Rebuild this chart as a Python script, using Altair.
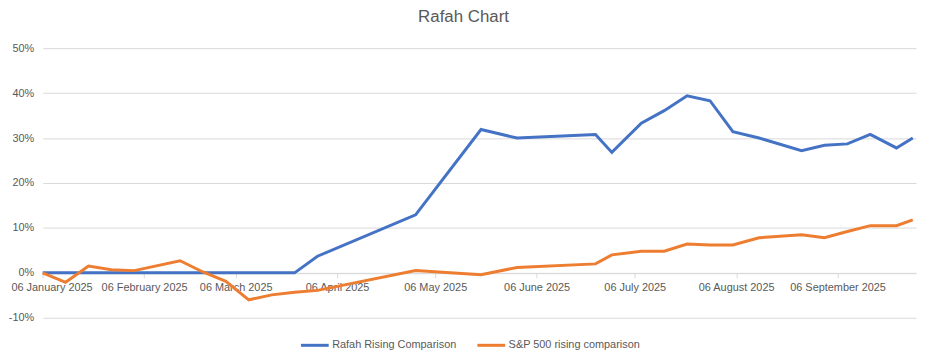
import altair as alt
import pandas as pd

dates = ["2025-01-06", "2025-01-13", "2025-01-20", "2025-01-27", "2025-02-03",
         "2025-02-17", "2025-02-24", "2025-03-03", "2025-03-10", "2025-03-17",
         "2025-03-24", "2025-03-31", "2025-04-30", "2025-05-20", "2025-05-31",
         "2025-06-24", "2025-06-29", "2025-07-08", "2025-07-15", "2025-07-22",
         "2025-07-29", "2025-08-05", "2025-08-13", "2025-08-26", "2025-09-02",
         "2025-09-09", "2025-09-16", "2025-09-24", "2025-09-29"]

rafah = [0.0, 0.0, 0.0, 0.0, 0.0,
         0.0, 0.0, 0.0, 0.0, 0.0,
         0.0, 0.037, 0.129, 0.319, 0.300,
         0.308, 0.268, 0.333, 0.361, 0.394,
         0.383, 0.314, 0.300, 0.272, 0.284,
         0.287, 0.308, 0.278, 0.300]

sp500 = [0.0, -0.021, 0.015, 0.007, 0.005,
         0.027, 0.002, -0.019, -0.060, -0.049,
         -0.043, -0.039, 0.005, -0.004, 0.012,
         0.020, 0.040, 0.048, 0.048, 0.064,
         0.062, 0.062, 0.078, 0.085, 0.078,
         0.092, 0.105, 0.105, 0.118]

series_names = ["Rafah Rising Comparison", "S&P 500 rising comparison"]
series_colors = ["#4472C4", "#ED7D31"]

y_ticks = [-0.1, 0.0, 0.1, 0.2, 0.3, 0.4, 0.5]
tick_months = [1, 2, 3, 4, 5, 6, 7, 8, 9]

rows = []
for d, v in zip(dates, rafah):
    rows.append({"date": d, "value": v, "series": series_names[0]})
for d, v in zip(dates, sp500):
    rows.append({"date": d, "value": v, "series": series_names[1]})
df = pd.DataFrame(rows)

W, H = 881, 272
zero_offset = -(H * 0.1 / 0.6)

font = "Liberation Sans"
gray = "#595959"

chart = alt.Chart(df).mark_line(strokeWidth=3).encode(
    x=alt.X(
        "date:T",
        scale=alt.Scale(
            type="utc",
            domain=[alt.DateTime(year=2025, month=1, date=6, utc=True),
                    alt.DateTime(year=2025, month=9, date=30, utc=True)],
        ),
        axis=alt.Axis(
            title=None,
            values=[alt.DateTime(year=2025, month=m, date=6, utc=True) for m in tick_months],
            format="%d %B %Y",
            labelColor=gray,
            labelFont=font,
            labelFontSize=11,
            labelPadding=4,
            tickColor="#D9D9D9",
            tickSize=5,
            domainColor="#D9D9D9",
            grid=False,
            offset=zero_offset,
            labelOverlap=False,
            labelFlush=True,
            labelFlushOffset=32,
        ),
    ),
    y=alt.Y(
        "value:Q",
        scale=alt.Scale(domain=[-0.1, 0.5], nice=False),
        axis=alt.Axis(
            title=None,
            values=y_ticks,
            format=".0%",
            labelExpr="replace(datum.label, '\u2212', '-')",
            labelColor=gray,
            labelFont=font,
            labelFontSize=11,
            labelPadding=9,
            ticks=False,
            domain=False,
            gridColor="#D9D9D9",
            gridWidth=1,
        ),
    ),
    color=alt.Color(
        "series:N",
        scale=alt.Scale(domain=series_names, range=series_colors),
        legend=alt.Legend(
            title=None,
            orient="none",
            direction="horizontal",
            legendX=259,
            legendY=284,
            symbolType="stroke",
            symbolSize=784,
            symbolStrokeWidth=3,
            labelFont=font,
            labelFontSize=11,
            labelColor=gray,
            labelOffset=2,
            columnPadding=14,
        ),
    ),
).properties(
    width=W,
    height=H,
    title=alt.TitleParams(
        "Rafah Chart",
        font=font,
        fontSize=17,
        fontWeight="normal",
        color=gray,
        anchor="middle",
        dx=-16,
        offset=16,
    ),
    autosize=alt.AutoSizeParams(type="none"),
    padding={"left": 35, "top": 39, "right": 7, "bottom": 34},
).configure_view(stroke=None)

chart.save("out.html", embed_options={"renderer": "svg", "actions": False})
